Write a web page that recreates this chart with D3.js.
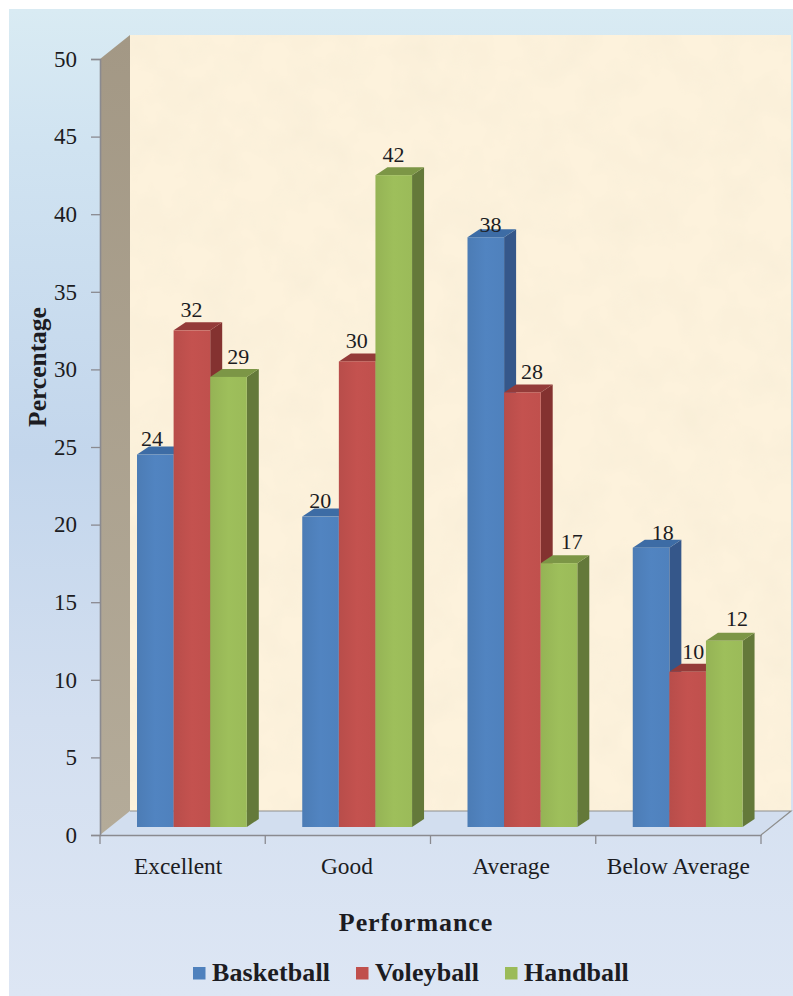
<!DOCTYPE html>
<html>
<head>
<meta charset="utf-8">
<script src="https://cdnjs.cloudflare.com/ajax/libs/d3/7.8.5/d3.min.js"></script>
<style>
  html, body { margin: 0; padding: 0; background: #fff; }
  text { font-family: "Liberation Serif", serif; fill: #1c1c22; }
</style>
</head>
<body>
<svg id="chart" width="793" height="996" style="display:block"></svg>
<script>
// Chart data
const categories = ["Excellent", "Good", "Average", "Below Average"];
const seriesNames = ["Basketball", "Voleyball", "Handball"];
const basketball = [24, 20, 38, 18];
const voleyball = [32, 30, 28, 10];
const handball = [29, 42, 17, 12];
const yTicks = [0, 5, 10, 15, 20, 25, 30, 35, 40, 45, 50];

// Palette per series: front, top, side faces
const fronts = ["#4f81bd", "#c0504d", "#9bbb59"];
const tops = ["#3d6ca5", "#943b39", "#7c9646"];
const sides = ["#35578a", "#843230", "#64793a"];

const W = 793, H = 996;
const plotLeft = 100, plotRight = 761, plotBase = 835, plotTop = 59;
const wallDx = 30, wallDy = -24;      // depth of the walls
const barDx = 12, barDy = -8;         // depth of each bar
const barInsetY = 8;                  // bars stand slightly behind the front axis
const barWidth = 36.6;

const svg = d3.select("#chart");
const defs = svg.append("defs");

const bg = defs.append("linearGradient").attr("id", "bg").attr("x1", 0).attr("x2", 0).attr("y1", 0).attr("y2", 1);
[[0, "#d9ebf3"], [0.14, "#d0e3f1"], [0.45, "#c3d6ec"], [0.72, "#d3dff0"], [1, "#dde6f4"]]
  .forEach(([o, c]) => bg.append("stop").attr("offset", o).attr("stop-color", c));

// Parchment mottling on the back wall
const paper = defs.append("filter").attr("id", "paper").attr("x", 0).attr("y", 0).attr("width", 1).attr("height", 1);
paper.append("feTurbulence").attr("type", "fractalNoise").attr("baseFrequency", 0.025).attr("numOctaves", 3).attr("seed", 7).attr("result", "n");
paper.append("feColorMatrix").attr("in", "n").attr("type", "matrix")
  .attr("values", "0 0 0 0 0.93  0 0 0 0 0.85  0 0 0 0 0.68  1.4 0 0 0 -0.55").attr("result", "tint");
paper.append("feComposite").attr("in", "tint").attr("in2", "SourceAlpha").attr("operator", "in").attr("result", "clipped");
paper.append("feMerge").selectAll("feMergeNode").data(["SourceGraphic", "clipped"]).join("feMergeNode").attr("in", d => d);

const shade = (id, c) => {
  const g = defs.append("linearGradient").attr("id", id).attr("x1", 0).attr("x2", 1).attr("y1", 0).attr("y2", 0);
  g.append("stop").attr("offset", 0).attr("stop-color", d3.color(c).darker(0.12));
  g.append("stop").attr("offset", 0.5).attr("stop-color", d3.color(c).brighter(0.06));
  g.append("stop").attr("offset", 1).attr("stop-color", c);
};
fronts.forEach((c, i) => shade("front" + i, c));

const wallGrad = defs.append("linearGradient").attr("id", "wallSide").attr("x1", 0).attr("x2", 0).attr("y1", 0).attr("y2", 1);
wallGrad.append("stop").attr("offset", 0).attr("stop-color", "#a39885");
wallGrad.append("stop").attr("offset", 1).attr("stop-color", "#b4ab99");

// Scales
const y = d3.scaleLinear().domain([0, 50]).range([plotBase, plotTop]);
const x = d3.scaleBand().domain(categories).range([plotLeft, plotRight]);
const barX = d3.scaleBand().domain(seriesNames).range([37, 37 + barWidth * 3]);

// Backdrop
svg.append("rect").attr("x", 9).attr("y", 9).attr("width", W - 9).attr("height", H - 9).attr("fill", "url(#bg)");

// Back wall, floor and left wall
const poly = pts => "M" + pts.map(p => p.join(",")).join("L") + "Z";
svg.append("rect")
  .attr("x", plotLeft + wallDx).attr("y", plotTop + wallDy)
  .attr("width", plotRight - plotLeft).attr("height", plotBase - plotTop)
  .attr("fill", "#fdf2dc").attr("filter", "url(#paper)");
svg.append("path")
  .attr("d", poly([[plotLeft, plotBase], [plotRight, plotBase], [plotRight + wallDx, plotBase + wallDy], [plotLeft + wallDx, plotBase + wallDy]]))
  .attr("fill", "#d2deef");
svg.append("path")
  .attr("d", `M${plotLeft + wallDx},${plotBase + wallDy}H${plotRight + wallDx}L${plotRight},${plotBase}`)
  .attr("fill", "none").attr("stroke", "#8e8e8c").attr("stroke-width", 1.2);
svg.append("path")
  .attr("d", poly([[plotLeft, plotBase], [plotLeft, plotTop], [plotLeft + wallDx, plotTop + wallDy], [plotLeft + wallDx, plotBase + wallDy]]))
  .attr("fill", "url(#wallSide)");

// Bars, drawn left to right so each one overlaps its neighbour's side face
const series = [basketball, voleyball, handball];
const valueY = v => y(v) - barInsetY;
const groups = svg.selectAll("g.group").data(categories).join("g")
  .attr("class", "group")
  .attr("transform", d => `translate(${x(d)},0)`);

groups.each(function (cat, ci) {
  const g = d3.select(this);
  seriesNames.forEach((name, si) => {
    const v = series[si][ci];
    const x0 = barX(name), x1 = x0 + barX.bandwidth();
    const yTop = valueY(v), yBase = valueY(0);
    g.append("path")
      .attr("d", poly([[x1, yTop], [x1 + barDx, yTop + barDy], [x1 + barDx, yBase + barDy], [x1, yBase]]))
      .attr("fill", sides[si]);
    g.append("path")
      .attr("d", poly([[x0, yTop], [x1, yTop], [x1 + barDx, yTop + barDy], [x0 + barDx, yTop + barDy]]))
      .attr("fill", tops[si]);
    g.append("rect")
      .attr("x", x0).attr("y", yTop)
      .attr("width", x1 - x0).attr("height", yBase - yTop)
      .attr("fill", `url(#front${si})`);
  });
});

// Value labels sit on the bar tops, each nudged clear of its neighbouring bar
const labelShift = [
  [[15, -9], [18, -9], [23, -5], [30, -8]],
  [[18, -13], [18, -13], [28, -13], [24, -13]],
  [[28, -13], [18, -13], [31, -14], [31, -15]]
];
groups.each(function (cat, ci) {
  const g = d3.select(this);
  seriesNames.forEach((name, si) => {
    const v = series[si][ci];
    const [dx, dy] = labelShift[si][ci];
    g.append("text")
      .attr("x", barX(name) + dx).attr("y", valueY(v) + dy)
      .attr("text-anchor", "middle").attr("font-size", 22).text(v);
  });
});

// Axes
const yAxis = d3.axisLeft(y).tickValues(yTicks).tickSize(9).tickPadding(14);
const yG = svg.append("g").attr("transform", `translate(${plotLeft},0)`).call(yAxis);
const xAxis = d3.axisBottom(x).tickSize(0).tickPadding(22);
const xG = svg.append("g").attr("transform", `translate(0,${plotBase})`).call(xAxis);
xG.selectAll("line.sep").data(d3.range(categories.length + 1)).join("line").attr("class", "sep")
  .attr("x1", i => plotLeft + i * x.step()).attr("x2", i => plotLeft + i * x.step())
  .attr("y1", 0).attr("y2", 9);
[yG, xG].forEach(a => {
  a.attr("font-family", null).attr("font-size", null);
  a.selectAll("text").attr("font-size", 23);
  a.selectAll("line").attr("stroke", "#8a8a90").attr("stroke-width", 1.3);
  a.select(".domain").attr("stroke", "#8a8a90").attr("stroke-width", 1.6);
});
// Category labels are not perfectly centred on their bands
const xLabelShift = [-4.5, -1, -2, 0];
xG.selectAll(".tick text").attr("font-size", 23.4).attr("dx", (d, i) => xLabelShift[i]);

// Axis titles
svg.append("text").attr("transform", "translate(46,367) rotate(-90)")
  .attr("text-anchor", "middle").attr("font-size", 25.5).attr("font-weight", "bold").text("Percentage");
svg.append("text").attr("x", 416).attr("y", 931)
  .attr("text-anchor", "middle").attr("font-size", 26).attr("font-weight", "bold").attr("letter-spacing", 0.9).text("Performance");

// Legend
const legendX = [193, 356, 505];
const legend = svg.selectAll("g.key").data(seriesNames).join("g").attr("class", "key")
  .attr("transform", (d, i) => `translate(${legendX[i]},0)`);
legend.append("rect").attr("y", 967).attr("width", 12.5).attr("height", 12.5).attr("fill", (d, i) => fronts[i]);
legend.append("text").attr("x", 19).attr("y", 981)
  .attr("font-size", 26).attr("font-weight", "bold").attr("letter-spacing", 0.1).text(d => d);
</script>
</body>
</html>
